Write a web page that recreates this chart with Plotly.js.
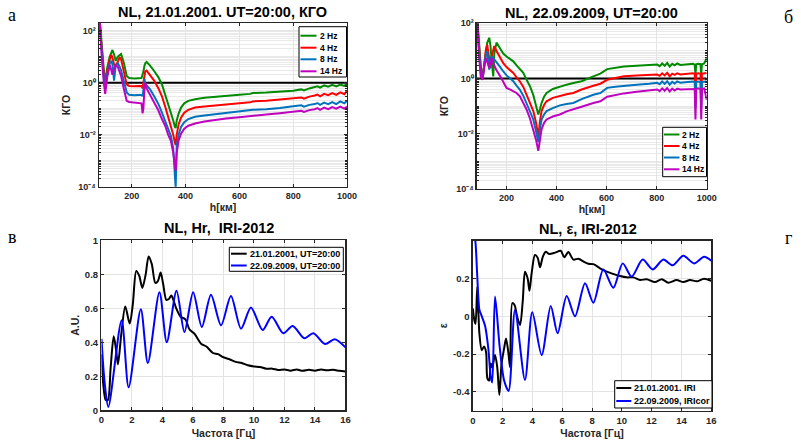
<!DOCTYPE html>
<html><head><meta charset="utf-8">
<script src="https://cdn.plot.ly/plotly-3.0.1.min.js"></script>
<style>html,body{margin:0;padding:0;background:#fff;}#chart{width:801px;height:445px;}</style>
</head><body><div id="chart"></div>
<script>
// ---------- Panel а: NL, 21.01.2001, KGO vs h ----------
const hA = [80, 88, 96, 101, 108, 118, 124, 128, 134, 140,
  148, 155, 160, 170, 181, 190, 210, 236, 240, 243,
  247, 250, 255, 268, 283, 299, 312, 324, 335, 345,
  354, 360, 363, 367, 374, 383, 395, 410, 435, 470,
  500, 550, 600, 640, 650, 700, 750, 800, 830, 840,
  860, 880, 890, 900, 915, 930, 945, 960, 975, 990, 1000];
const kgoA_2Hz = [316, 20, 3, 1.0, 3.5, 10, 15, 18, 12, 7,
  10, 12, 12.6, 6, 1.8, 1.5, 1.45, 1.5, 2.0, 2.6,
  4.5, 5.5, 6.2, 4.5, 2.8, 1.6, 0.85, 0.36, 0.15, 0.075,
  0.035, 0.02, 0.018, 0.035, 0.065, 0.11, 0.16, 0.2, 0.23, 0.26,
  0.28, 0.31, 0.34, 0.37, 0.4, 0.42, 0.45, 0.49, 0.55, 0.5,
  0.6, 0.66, 0.72, 0.64, 0.78, 0.7, 0.82, 0.72, 0.85, 0.75, 0.92];
const kgoA_4Hz = [250, 15, 2, 0.75, 2.5, 8, 11.6, 9, 5, 4.1,
  7, 9.5, 8, 3, 0.85, 0.75, 0.72, 0.75, 0.6, 1.0,
  2.2, 2.7, 2.9, 2.0, 1.2, 0.6, 0.3, 0.12, 0.05, 0.025,
  0.01, 0.005, 0.004, 0.01, 0.025, 0.045, 0.07, 0.09, 0.11, 0.12,
  0.13, 0.145, 0.16, 0.175, 0.19, 0.2, 0.22, 0.25, 0.27, 0.24,
  0.29, 0.32, 0.35, 0.3, 0.37, 0.33, 0.4, 0.34, 0.42, 0.36, 0.48];
const kgoA_8Hz = [200, 12, 1.5, 0.6, 2, 5.5, 7, 5, 1.2, 4.5,
  5.6, 4, 3, 1.2, 0.42, 0.34, 0.33, 0.34, 0.3, 0.5,
  1.4, 0.9, 0.8, 0.55, 0.3, 0.15, 0.07, 0.034, 0.015, 0.009,
  0.003, 0.0004, 0.00009, 0.004, 0.01, 0.02, 0.03, 0.04, 0.049, 0.055,
  0.06, 0.068, 0.076, 0.085, 0.09, 0.095, 0.105, 0.125, 0.135, 0.12,
  0.14, 0.15, 0.165, 0.14, 0.17, 0.15, 0.18, 0.15, 0.19, 0.16, 0.2];
const kgoA_14Hz = [400, 10, 1, 0.37, 1.5, 4.8, 3, 2, 3.5, 4.8,
  4, 2.5, 1.8, 0.6, 0.2, 0.18, 0.17, 0.16, 0.066, 0.1,
  0.6, 1.0, 0.6, 0.35, 0.18, 0.085, 0.04, 0.022, 0.01, 0.006,
  0.002, 0.0006, 0.0004, 0.002, 0.006, 0.011, 0.017, 0.022, 0.027, 0.032,
  0.036, 0.042, 0.047, 0.052, 0.056, 0.06, 0.067, 0.077, 0.083, 0.075,
  0.088, 0.095, 0.105, 0.09, 0.11, 0.095, 0.115, 0.1, 0.12, 0.1, 0.12];

// ---------- Panel б: NL, 22.09.2009 ----------
const hB = [82, 90, 97, 104, 112, 118, 123, 131, 136, 140,
  147, 151, 160, 175, 187, 200, 215, 227, 240, 253,
  267, 280, 294, 307, 318, 327, 334, 340, 350, 360,
  385, 413, 440, 467, 500, 547, 575, 602, 635, 669,
  720, 770, 802, 812, 822, 832, 842, 852, 862, 872,
  882, 895, 920, 945, 952, 955, 958, 965, 975, 978,
  981, 990, 1000];
const kgoB_2Hz = [200, 15, 3, 1.05, 4, 12, 20, 30, 15, 5,
  1.2, 8, 20, 12, 8, 6.3, 5, 4.2, 3, 2.2,
  1.6, 0.9, 0.52, 0.25, 0.1, 0.05, 0.08, 0.13, 0.22, 0.3,
  0.42, 0.52, 0.6, 0.69, 0.8, 1.2, 1.5, 2.2, 2.5, 2.75,
  2.9, 3.0, 3.2, 2.8, 3.5, 2.9, 3.7, 2.7, 3.4, 3.0,
  3.5, 3.1, 3.3, 3.4, 3.2, 1.4, 3.3, 3.4, 3.3, 1.5,
  3.3, 3.5, 5.5];
const kgoB_4Hz = [160, 10, 2, 0.9, 5, 12, 16.6, 5, 2.4, 6,
  12, 15, 10, 5.5, 3.6, 2.6, 2.0, 1.6, 1.1, 0.8,
  0.5, 0.26, 0.12, 0.066, 0.025, 0.008, 0.03, 0.066, 0.11, 0.15,
  0.2, 0.24, 0.27, 0.3, 0.4, 0.55, 0.65, 0.9, 1.05, 1.2,
  1.3, 1.35, 1.4, 1.25, 1.55, 1.3, 1.6, 1.2, 1.5, 1.35,
  1.55, 1.4, 1.5, 1.55, 1.5, 0.17, 1.5, 1.55, 1.5, 0.17,
  1.5, 1.55, 1.6];
const kgoB_8Hz = [130, 8, 1.5, 1.0, 4, 8, 9.5, 2.1, 4, 6.3,
  5.5, 5, 4, 2.6, 1.8, 1.3, 1.0, 0.8, 0.55, 0.4,
  0.24, 0.13, 0.07, 0.033, 0.012, 0.005, 0.015, 0.033, 0.05, 0.066,
  0.085, 0.107, 0.12, 0.13, 0.18, 0.26, 0.3, 0.46, 0.5, 0.55,
  0.6, 0.65, 0.7, 0.62, 0.78, 0.64, 0.8, 0.6, 0.76, 0.66,
  0.78, 0.7, 0.75, 0.78, 0.75, 0.09, 0.75, 0.78, 0.75, 0.09,
  0.75, 0.78, 0.8];
const kgoB_14Hz = [250, 7, 1.2, 0.9, 3, 5.5, 4, 2.4, 4, 5.5,
  3.5, 2.8, 2, 1.2, 0.8, 0.46, 0.4, 0.35, 0.3, 0.23,
  0.13, 0.076, 0.035, 0.0145, 0.006, 0.0024, 0.008, 0.0145, 0.025, 0.033,
  0.042, 0.05, 0.065, 0.076, 0.095, 0.13, 0.15, 0.22, 0.26, 0.29,
  0.33, 0.36, 0.4, 0.35, 0.44, 0.36, 0.45, 0.34, 0.43, 0.37,
  0.43, 0.4, 0.42, 0.44, 0.42, 0.033, 0.42, 0.44, 0.42, 0.033,
  0.42, 0.44, 0.17];

const kgoThreshold = 1;
const freqLabels = ['2 Hz', '4 Hz', '8 Hz', '14 Hz'];

// ---------- Panel в: NL, Hr, IRI-2012 ----------
const fHrBlack = [0, 0.12, 0.28, 0.42, 0.6, 0.8, 0.95, 1.08, 1.3, 1.56,
  1.85, 2.05, 2.28, 2.48, 2.68, 2.9, 3.09, 3.3, 3.53, 3.7,
  3.88, 4.05, 4.25, 4.42, 4.58, 4.75, 4.9, 5.19, 5.5, 5.78,
  6.1, 6.55, 6.88, 7.31, 7.64, 8.0, 8.4, 8.8, 9.2, 9.6,
  10.0, 10.4, 10.8, 11.2, 11.6, 12.0, 12.4, 12.8, 13.2, 13.6,
  14.0, 14.4, 14.8, 15.2, 15.6, 16];
const hr2001 = [0.33, 0.15, 0.06, 0.06, 0.25, 0.435, 0.36, 0.27, 0.45, 0.61,
  0.51, 0.62, 0.82, 0.79, 0.72, 0.8, 0.905, 0.86, 0.75, 0.76,
  0.81, 0.74, 0.65, 0.655, 0.675, 0.64, 0.6, 0.55, 0.535, 0.474,
  0.45, 0.39, 0.375, 0.337, 0.33, 0.312, 0.3, 0.285, 0.278, 0.265,
  0.258, 0.255, 0.245, 0.245, 0.237, 0.24, 0.233, 0.24, 0.232, 0.238,
  0.233, 0.24, 0.235, 0.238, 0.232, 0.228];
const fHrBlue = [0, 0.2, 0.45, 1.32, 1.78, 2.58, 3.04, 3.8, 4.28, 4.92,
  5.44, 6.01, 6.58, 7.18, 7.84, 8.49, 9.15, 9.8, 10.57, 11.16,
  11.92, 12.54, 13.3, 13.89, 14.66, 15.3, 16];
const hr2009 = [0.42, 0.17, 0.02, 0.53, 0.135, 0.595, 0.278, 0.695, 0.40, 0.703,
  0.46, 0.695, 0.49, 0.68, 0.50, 0.672, 0.48, 0.605, 0.472, 0.55,
  0.453, 0.496, 0.424, 0.453, 0.39, 0.418, 0.37];
const hrNames = ['21.01.2001, UT=20:00', '22.09.2009, UT=20:00'];

// ---------- Panel г: NL, ε, IRI-2012 ----------
const fEpsBlack = [0, 0.1, 0.18, 0.3, 0.44, 0.6, 0.75, 0.89, 0.98, 1.1,
  1.2, 1.3, 1.49, 1.64, 1.78, 1.93, 2.1, 2.23, 2.38, 2.5,
  2.65, 2.8, 2.97, 3.17, 3.35, 3.5, 3.68, 3.8, 3.95, 4.17,
  4.35, 4.51, 4.69, 4.89, 5.12, 5.52, 5.9, 6.14, 6.41, 6.75,
  7.09, 7.42, 7.76, 8.09, 8.54, 8.99, 9.43, 9.88, 10.33, 10.78,
  11.22, 11.67, 12.23, 12.68, 13.12, 13.68, 14.13, 14.58, 15.03, 15.52, 16];
const eps2001 = [0.042, -0.02, -0.04, 0.157, -0.09, -0.18, -0.16, -0.19, -0.33, -0.34,
  -0.25, -0.27, -0.205, -0.27, -0.416, -0.25, -0.17, -0.117, -0.19, -0.27,
  0.07, 0.06, 0.0, -0.046, 0.08, 0.236, 0.2, 0.135, 0.23, 0.324,
  0.31, 0.26, 0.313, 0.342, 0.33, 0.337, 0.347, 0.312, 0.34, 0.30,
  0.305, 0.29, 0.278, 0.276, 0.254, 0.236, 0.224, 0.213, 0.206, 0.206,
  0.192, 0.196, 0.181, 0.196, 0.178, 0.192, 0.181, 0.192, 0.185, 0.199, 0.188];
const fEpsBlue = [0, 0.15, 0.28, 0.37, 0.44, 0.6, 0.82, 1.04, 1.2, 1.3,
  1.49, 1.8, 2.1, 2.4, 2.83, 3.5, 3.99, 4.62, 5.23, 5.69,
  6.3, 6.86, 7.53, 8.09, 8.76, 9.43, 10.06, 10.66, 11.4, 12.07,
  12.79, 13.41, 14.13, 14.85, 15.52, 16];
const eps2009 = [0.45, 0.41, 0.24, 0.1, 0.035, 0.0, -0.05, -0.17, -0.32, -0.35,
  0.105, -0.16, -0.34, -0.395, 0.033, -0.337, 0.021, -0.205, 0.055, -0.09,
  0.107, 0.0, 0.175, 0.072, 0.248, 0.151, 0.28, 0.21, 0.30, 0.248,
  0.30, 0.27, 0.32, 0.28, 0.315, 0.294];
const epsNames = ['21.01.2001. IRI', '22.09.2009, IRIcor'];

// ---------- styling ----------
const W = 801, H = 445;
const FONT = 'Liberation Sans, Arial, Helvetica, sans-serif';
const AXC = '#262626';
const GRID = '#e4e4e4';
const freqColors = ['#008a00', '#ff0000', '#0072bd', '#bf00bf'];
const pairColors = ['#000000', '#0000ff'];
const LW = 2;

const xRangeA = [78, 1000], xRangeB = [82, 1000];

// log axis ticks: labelled decades + minor grid at every digit
const supDigits = {'-': '⁻', '0': '⁰', '1': '¹', '2': '²', '3': '³', '4': '⁴'};
const logMajorVals = [], logMajorText = [], logMinorVals = [];
for (let k = -4; k <= 2; k++) {
  if (k % 2 === 0) {
    logMajorVals.push(Math.pow(10, k));
    logMajorText.push('10' + String(k).split('').map(c => supDigits[c]).join(''));
  }
  for (let m = 1; m <= 9; m++) {
    const v = m * Math.pow(10, k);
    if (v > 200) break;
    if (!(m === 1 && k % 2 === 0)) logMinorVals.push(v);
  }
}

function ax(extra) {
  return Object.assign({
    showline: true, linecolor: AXC, linewidth: 1.5, mirror: 'allticks',
    ticks: 'inside', ticklen: 3, tickcolor: AXC, tickwidth: 1,
    showgrid: true, gridcolor: GRID, gridwidth: 1, zeroline: false,
    tickfont: {family: FONT, size: 9, color: AXC, weight: 'bold'},
    automargin: false
  }, extra);
}
function logAx(extra) {
  return ax(Object.assign({
    type: 'log', tickmode: 'array', tickvals: logMajorVals, ticktext: logMajorText,
    minor: {tickmode: 'array', tickvals: logMinorVals, showgrid: true, gridcolor: '#e9e9e9',
      ticks: 'inside', ticklen: 2, tickcolor: AXC}
  }, extra));
}
function atitle(text, standoff) {
  return {text: text, font: {family: FONT, size: 10.5, color: AXC, weight: 'bold'}, standoff: standoff};
}

const traces = [];
const kA = [kgoA_2Hz, kgoA_4Hz, kgoA_8Hz, kgoA_14Hz];
const kB = [kgoB_2Hz, kgoB_4Hz, kgoB_8Hz, kgoB_14Hz];
traces.push({x: xRangeA, y: [kgoThreshold, kgoThreshold], xaxis: 'x', yaxis: 'y', mode: 'lines',
  line: {color: '#000', width: LW}, showlegend: false, hoverinfo: 'skip'});
traces.push({x: xRangeB, y: [kgoThreshold, kgoThreshold], xaxis: 'x2', yaxis: 'y2', mode: 'lines',
  line: {color: '#000', width: LW}, showlegend: false, hoverinfo: 'skip'});
for (let i = 0; i < 4; i++) {
  traces.push({x: hA, y: kA[i], xaxis: 'x', yaxis: 'y', mode: 'lines', name: freqLabels[i],
    line: {color: freqColors[i], width: LW}, showlegend: false});
}
for (let i = 0; i < 4; i++) {
  traces.push({x: hB, y: kB[i], xaxis: 'x2', yaxis: 'y2', mode: 'lines', name: freqLabels[i],
    line: {color: freqColors[i], width: LW}, showlegend: false});
}
const spl = {width: LW, shape: 'spline', smoothing: 0.8};
traces.push({x: fHrBlack, y: hr2001, xaxis: 'x3', yaxis: 'y3', mode: 'lines', name: hrNames[0],
  line: Object.assign({color: pairColors[0]}, spl), showlegend: false});
traces.push({x: fHrBlue, y: hr2009, xaxis: 'x3', yaxis: 'y3', mode: 'lines', name: hrNames[1],
  line: Object.assign({color: pairColors[1]}, spl), showlegend: false});
traces.push({x: fEpsBlack, y: eps2001, xaxis: 'x4', yaxis: 'y4', mode: 'lines', name: epsNames[0],
  line: Object.assign({color: pairColors[0]}, spl), showlegend: false});
traces.push({x: fEpsBlue, y: eps2009, xaxis: 'x4', yaxis: 'y4', mode: 'lines', name: epsNames[1],
  line: Object.assign({color: pairColors[1]}, spl), showlegend: false});

// compact legend boxes (drawn in page coordinates, MATLAB-like)
const shapes = [];
const annotations = [];
const px = v => v / W, py = v => 1 - v / H;
function legendBox(box, rowsY, lineX, textX, labels, colors, fsize) {
  shapes.push({type: 'rect', xref: 'paper', yref: 'paper', layer: 'above',
    x0: px(box[0]), x1: px(box[2]), y0: py(box[1]), y1: py(box[3]),
    fillcolor: '#ffffff', line: {color: '#000', width: 1}});
  labels.forEach((lab, i) => {
    shapes.push({type: 'line', xref: 'paper', yref: 'paper', layer: 'above',
      x0: px(lineX[0]), x1: px(lineX[1]), y0: py(rowsY[i]), y1: py(rowsY[i]),
      line: {color: colors[i], width: 2}});
    annotations.push({text: lab, x: px(textX), y: py(rowsY[i]), xref: 'paper', yref: 'paper',
      showarrow: false, xanchor: 'left', yanchor: 'middle',
      font: {family: FONT, size: fsize, color: '#000', weight: 'bold'}});
  });
}
legendBox([299, 26.7, 346.5, 77], [35.7, 47.7, 59.3, 71.3], [300.5, 316.5], 317.5, freqLabels, freqColors, 8.5);
legendBox([662.7, 127.3, 706.5, 176.7], [134.5, 146, 157.5, 169.3], [664, 679.5], 680, freqLabels, freqColors, 8.5);
legendBox([229.3, 247.3, 343.3, 271.3], [253.7, 265.5], [231, 246.7], 247.5, hrNames, pairColors, 9);
legendBox([614.7, 380.7, 712, 408], [388, 401], [616.3, 631.3], 632, epsNames, pairColors, 9);

function ann(text, x, y, size, font) {
  annotations.push({text: text, x: x, y: y, xref: 'paper', yref: 'paper', showarrow: false,
    xanchor: 'center', yanchor: 'middle',
    font: font || {family: FONT, size: size, color: '#000', weight: 'bold'}});
}
ann('NL, 21.01.2001. UT=20:00, КГО', 0.2784, 0.9730, 14.5);
ann('NL, 22.09.2009, UT=20:00', 0.7390, 0.9708, 14.5);
ann('NL, Hr,  IRI-2012', 0.2740, 0.4870, 14.5);
ann('NL, ε, IRI-2012', 0.7335, 0.4847, 14.5);
const SERIF = {family: 'Liberation Serif, Times New Roman, serif', size: 18, color: '#000'};
ann('а', 0.0150, 0.9660, 18, SERIF);
ann('б', 0.9850, 0.9620, 18, SERIF);
ann('в', 0.0160, 0.4674, 18, SERIF);
ann('г', 0.9850, 0.4650, 18, SERIF);

const tf95 = {family: FONT, size: 9.5, color: AXC, weight: 'bold'};
const layout = {
  width: W, height: H, margin: {l: 0, r: 0, t: 0, b: 0},
  paper_bgcolor: '#fff', plot_bgcolor: '#fff', showlegend: false,
  font: {family: FONT, color: AXC},
  xaxis: ax({domain: [0.1236, 0.4332], anchor: 'y', range: xRangeA, tickvals: [200, 400, 600, 800, 1000],
    title: atitle('h[км]', 2)}),
  yaxis: logAx({domain: [0.5804, 0.9476], anchor: 'x', range: [-4, 2.28], title: atitle('КГО', 5)}),
  xaxis2: ax({domain: [0.5955, 0.8823], anchor: 'y2', range: xRangeB, tickvals: [200, 400, 600, 800, 1000],
    title: atitle('h[км]', 2)}),
  yaxis2: logAx({domain: [0.5753, 0.9476], anchor: 'x2', range: [-4, 2], title: atitle('КГО', 5)}),
  xaxis3: ax({domain: [0.1267, 0.4313], anchor: 'y3', range: [0, 16], dtick: 2, tick0: 0,
    tickfont: tf95, title: atitle('Частота [Гц]', 5)}),
  yaxis3: ax({domain: [0.0780, 0.4600], anchor: 'x3', range: [0, 1], dtick: 0.2, tick0: 0,
    tickfont: tf95, title: atitle('A.U.', 3)}),
  xaxis4: ax({domain: [0.5903, 0.8879], anchor: 'y4', range: [0, 16], dtick: 2, tick0: 0,
    tickfont: tf95, title: atitle('Частота [Гц]', 5)}),
  yaxis4: ax({domain: [0.0769, 0.4591], anchor: 'x4', range: [-0.5, 0.4], tickmode: 'array',
    tickvals: [-0.4, -0.2, 0, 0.2], ticktext: ['-0.4', '-0.2', '0', '0.2'],
    tickfont: tf95, title: atitle('ε', 3)}),
  shapes: shapes,
  annotations: annotations
};

Plotly.newPlot('chart', traces, layout, {staticPlot: true, displayModeBar: false});
</script></body></html>
